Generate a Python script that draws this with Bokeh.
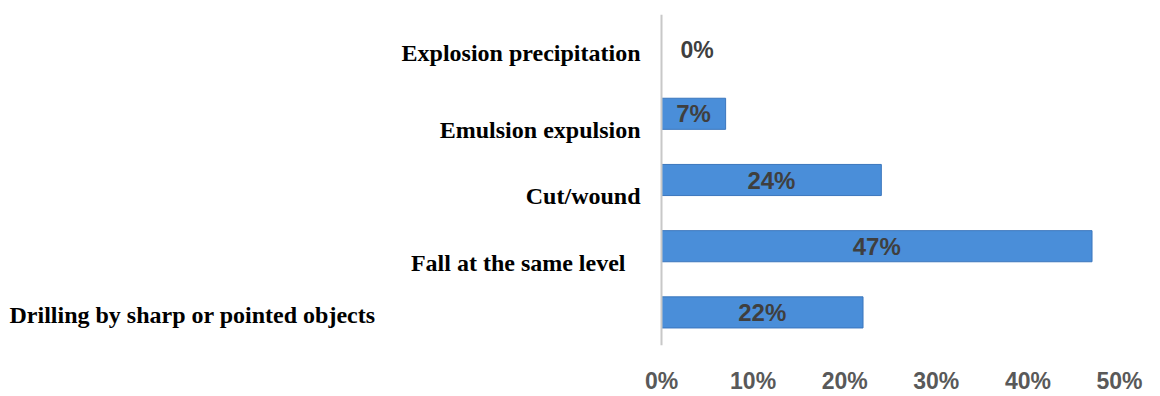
from bokeh.plotting import figure
from bokeh.models import ColumnDataSource, FixedTicker, Range1d, FactorRange, Span
from bokeh.core.properties import value
from bokeh.embed import file_html
from bokeh.resources import INLINE

# ---- data ----
categories = ["Explosion precipitation", "Emulsion expulsion", "Cut/wound",
              "Fall at the same level", "Drilling by sharp or pointed objects"]
percent = [0, 7, 24, 47, 22]
value_labels = ["0%", "7%", "24%", "47%", "22%"]
x_ticks = [0, 10, 20, 30, 40, 50]
x_tick_labels = ["0%", "10%", "20%", "30%", "40%", "50%"]

# ---- layout styling for the category captions (pixel offsets) ----
cap_x_offset = [-21, -21, -21, -36, -286]
cap_y_offset = [5, 16, 16, 17, 3]

W, H = 1160, 396
zero_px, right, top, bottom = 661, 41, 14, 50
frame_w = W - right
x_max = 50
x_min = -x_max * zero_px / (frame_w - zero_px)   # leave room for captions left of 0

y_factors = list(reversed(categories))
p = figure(width=W, height=H, y_range=FactorRange(*y_factors), x_range=Range1d(x_min, x_max),
           output_backend="svg", toolbar_location=None,
           min_border_left=0, min_border_right=right,
           min_border_top=top, min_border_bottom=bottom)
p.outline_line_color = None
p.xgrid.grid_line_color = None
p.ygrid.grid_line_color = None
p.background_fill_color = "white"
p.border_fill_color = "white"
p.yaxis.visible = False

src = ColumnDataSource(dict(cat=categories, val=percent, lab=value_labels,
                            xo=cap_x_offset, yo=cap_y_offset,
                            zero=[0] * len(categories)))

# vertical axis line
p.add_layout(Span(location=0, dimension="height", line_color="#c8c8c8", line_width=2))

# bars
nzb = ColumnDataSource(dict(cat=[c for c, v in zip(categories, percent) if v > 0],
                            val=[v for v in percent if v > 0],
                            x=[v / 2 for v in percent if v > 0],
                            lab=[l for l, v in zip(value_labels, percent) if v > 0]))
z = ColumnDataSource(dict(cat=[c for c, v in zip(categories, percent) if v == 0],
                          x=[v for v in percent if v == 0],
                          lab=[l for l, v in zip(value_labels, percent) if v == 0]))
p.hbar(y="cat", right="val", left=0, height=0.47, source=nzb,
       fill_color="#4a8ed9", line_color="#3b76bd", line_width=1)

# value labels
p.text(x="x", y="cat", text="lab", source=nzb, text_align="center",
       text_baseline="middle", text_font=value("Liberation Sans"),
       text_font_style="bold", text_font_size="24px", text_color="#3f3f3f")
p.text(x="x", y="cat", text="lab", source=z, text_align="left",
       text_baseline="middle", x_offset=19, y_offset=2,
       text_font=value("Liberation Sans"), text_font_style="bold",
       text_font_size="23px", text_color="#3f3f3f")

# category captions
p.text(x="zero", y="cat", text="cat", source=src, x_offset="xo", y_offset="yo",
       text_align="right", text_baseline="middle",
       text_font=value("Liberation Serif"), text_font_style="bold",
       text_font_size="24px", text_color="black")

p.xaxis.ticker = FixedTicker(ticks=x_ticks)
p.xaxis.major_label_overrides = {t: l for t, l in zip(x_ticks, x_tick_labels)}
p.xaxis.axis_line_color = None
p.xaxis.major_tick_line_color = None
p.xaxis.minor_tick_line_color = None
p.xaxis.major_label_standoff = 16
p.xaxis.major_label_text_font = "Liberation Sans"
p.xaxis.major_label_text_font_style = "bold"
p.xaxis.major_label_text_font_size = "23px"
p.xaxis.major_label_text_color = "#595959"

open("out.html", "w").write(file_html(p, INLINE))
